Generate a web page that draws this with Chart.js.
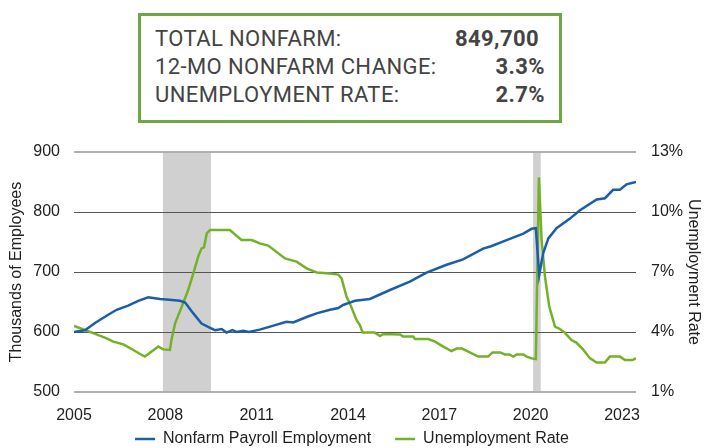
<!DOCTYPE html>
<html>
<head>
<meta charset="utf-8">
<script src="https://cdn.jsdelivr.net/npm/chart.js@4.4.1/dist/chart.umd.min.js"></script>
<style>
  html, body { margin: 0; padding: 0; background: #fff; }
  #wrap { position: relative; width: 704px; height: 448px; }
  #chart { position: absolute; left: 0; top: 0; }
  .stats {
    position: absolute; left: 138px; top: 13px; width: 424px; height: 110px;
    box-sizing: border-box; border: 3px solid #6ea843; background: #fff;
    padding: 9px 14px 0 14px;
    font-family: Roboto, "Noto Sans", sans-serif; font-size: 22px; color: #444;
  }
  .stats .row { display: flex; justify-content: space-between; line-height: 28px; letter-spacing: 0.4px; }
  .stats .row b { font-weight: 700; }
  .stats .row b.first { margin-right: 6px; }
</style>
</head>
<body>
<div id="wrap">
  <canvas id="chart" width="704" height="448"></canvas>
  <div class="stats">
    <div class="row"><span>TOTAL NONFARM:</span><b class="first">849,700</b></div>
    <div class="row"><span>12-MO NONFARM CHANGE:</span><b>3.3%</b></div>
    <div class="row"><span>UNEMPLOYMENT RATE:</span><b>2.7%</b></div>
  </div>
</div>
<script>
// nonfarm payroll employment, thousands
var payrollDates = [2005.0, 2005.36, 2005.69, 2006.07, 2006.40, 2006.78, 2007.11, 2007.44, 2007.82, 2008.04,
  2008.48, 2008.65, 2008.92, 2009.19, 2009.47, 2009.63, 2009.85, 2010.01, 2010.2, 2010.34, 2010.56, 2010.75,
  2011.1, 2011.44, 2011.98, 2012.2, 2012.64, 2012.97, 2013.41, 2013.68, 2013.84, 2014.06, 2014.23, 2014.72,
  2015.38, 2016.03, 2016.58, 2017.24, 2017.78, 2018.44, 2018.7, 2019.21, 2019.76, 2020.03, 2020.17, 2020.28,
  2020.41, 2020.58, 2020.85, 2021.29, 2021.62, 2022.17, 2022.44, 2022.71, 2022.93, 2023.15, 2023.46];
var payrollValues = [600, 603, 615, 627, 637, 644, 652, 658, 655, 654,
  652, 649, 631, 614, 607, 603, 605, 599, 603, 600, 602, 600,
  604, 609, 617, 616, 625, 631, 637, 640, 645, 649, 652, 655,
  670, 684, 699, 712, 721, 739, 743, 753, 764, 772, 773, 695,
  731, 756, 773, 789, 803, 821, 823, 837, 837, 846, 850];

// unemployment rate, percent
var rateDates = [2005.0, 2005.36, 2005.74, 2006.07, 2006.29, 2006.62, 2006.95, 2007.17, 2007.33, 2007.55,
  2007.77, 2007.93, 2008.15, 2008.2, 2008.32, 2008.54, 2008.75, 2008.92, 2009.08, 2009.19, 2009.27, 2009.36,
  2009.47, 2010.12, 2010.5, 2010.84, 2011.1, 2011.38, 2011.93, 2012.31, 2012.64, 2012.97, 2013.41, 2013.68,
  2013.79, 2013.95, 2014.06, 2014.28, 2014.39, 2014.48, 2014.88, 2015.05, 2015.16, 2015.71, 2015.81, 2016.14,
  2016.2, 2016.64, 2016.86, 2017.13, 2017.4, 2017.57, 2017.74, 2017.95, 2018.28, 2018.6, 2018.75, 2019.0,
  2019.15, 2019.3, 2019.43, 2019.54, 2019.76, 2019.87, 2020.03, 2020.17, 2020.27, 2020.36, 2020.47, 2020.61,
  2020.8, 2020.96, 2021.12, 2021.34, 2021.5, 2021.72, 2021.95, 2022.17, 2022.44, 2022.6, 2022.93, 2023.1,
  2023.35, 2023.46];
var rateValues = [4.3, 4.1, 3.88, 3.68, 3.52, 3.38, 3.1, 2.9, 2.77, 3.02,
  3.27, 3.13, 3.1, 3.6, 4.43, 5.27, 6.1, 6.93, 7.77, 8.18, 8.23, 8.93,
  9.1, 9.1, 8.6, 8.6, 8.43, 8.32, 7.68, 7.52, 7.18, 6.98, 6.93, 6.87,
  6.68, 5.77, 5.43, 4.6, 4.35, 3.98, 3.97, 3.8, 3.9, 3.88, 3.77, 3.77,
  3.65, 3.65, 3.52, 3.27, 3.05, 3.17, 3.17, 3.02, 2.77, 2.77, 2.98, 2.98,
  2.88, 2.88, 2.77, 2.88, 2.88, 2.77, 2.68, 2.65, 11.73, 8.6, 6.77, 5.27,
  4.27, 4.15, 3.97, 3.6, 3.47, 3.13, 2.68, 2.47, 2.47, 2.77, 2.77, 2.6,
  2.6, 2.7];

var yearTicks = [2005, 2008, 2011, 2014, 2017, 2020, 2023];
var payrollTicks = [500, 600, 700, 800, 900];
var rateTicks = [1, 4, 7, 10, 13];
var recessions = [[2007.92, 2009.5], [2020.08, 2020.33]];

function toPoints(xs, ys) {
  return xs.map(function (x, i) { return {x: x, y: ys[i]}; });
}
function fixTicks(list) {
  return function (axis) { axis.ticks = list.map(function (v) { return {value: v}; }); };
}
function fixSize(prop, size) {
  return function (axis) { axis[prop] = size; };
}

var recessionShade = {
  id: 'recessionShade',
  beforeDraw: function (chart) {
    var ctx = chart.ctx, area = chart.chartArea, x = chart.scales.x;
    ctx.save();
    ctx.fillStyle = '#d0d0d0';
    recessions.forEach(function (r) {
      var x1 = x.getPixelForValue(r[0]), x2 = x.getPixelForValue(r[1]);
      ctx.fillRect(x1, area.top, x2 - x1, area.bottom - area.top);
    });
    ctx.restore();
  }
};

// legend padding doubles as the gap between items; move the box up and let it
// run past the canvas so the text lands where it should and isn't clipped
var legendNudge = {
  id: 'legendNudge',
  afterLayout: function (chart) {
    var lg = chart.legend;
    lg.top -= 17;
    lg.height = 64;
    lg.bottom = lg.top + 64;
  }
};

var font = {family: '"Liberation Sans", Arial, sans-serif', size: 16};
Chart.defaults.color = '#222';

new Chart('chart', {
  type: 'line',
  plugins: [recessionShade, legendNudge],
  data: {
    datasets: [{
      label: 'Nonfarm Payroll Employment',
      data: toPoints(payrollDates, payrollValues),
      borderColor: '#1c5ea6',
      backgroundColor: '#1c5ea6',
      borderWidth: 2.5,
      pointRadius: 0,
      yAxisID: 'y'
    }, {
      label: 'Unemployment Rate',
      data: toPoints(rateDates, rateValues),
      borderColor: '#74b129',
      backgroundColor: '#74b129',
      borderWidth: 2.5,
      pointRadius: 0,
      yAxisID: 'y1'
    }]
  },
  options: {
    responsive: false,
    animation: false,
    layout: {padding: {top: 152, left: 0, right: 0, bottom: 0}},
    plugins: {
      tooltip: {enabled: false},
      legend: {
        position: 'bottom',
        maxHeight: 24,
        labels: {
          font: font,
          boxWidth: 20,
          boxHeight: 2.5,
          padding: 24,
          generateLabels: function (chart) {
            return Chart.defaults.plugins.legend.labels.generateLabels(chart).map(function (l) {
              l.lineWidth = 0; return l;
            });
          }
        }
      }
    },
    scales: {
      x: {
        type: 'linear',
        min: 2005,
        max: 2023.46,
        afterBuildTicks: fixTicks(yearTicks),
        afterFit: fixSize('height', 32),
        grid: {display: false, drawTicks: false},
        border: {display: false},
        ticks: {font: font, padding: 14, maxRotation: 0, callback: function (v) { return String(v); }}
      },
      y: {
        position: 'left',
        min: 500,
        max: 900,
        afterBuildTicks: fixTicks(payrollTicks),
        afterFit: fixSize('width', 74),
        border: {display: false},
        grid: {
          drawTicks: false,
          color: function (c) { return (c.index === 0 || c.index === 4) ? '#b0b0b0' : '#555'; },
          lineWidth: function (c) { return (c.index === 0 || c.index === 4) ? 2 : 1; }
        },
        ticks: {font: font, padding: 14},
        title: {display: true, text: 'Thousands of Employees', font: font, padding: {top: 7, bottom: 0}}
      },
      y1: {
        position: 'right',
        min: 1,
        max: 13,
        afterBuildTicks: fixTicks(rateTicks),
        afterFit: fixSize('width', 68),
        border: {display: false},
        grid: {display: false, drawTicks: false},
        ticks: {font: font, padding: 15, callback: function (v) { return v + '%'; }},
        title: {display: true, text: 'Unemployment Rate', font: font, padding: {top: 1, bottom: 0}}
      }
    }
  }
});
</script>
</body>
</html>
